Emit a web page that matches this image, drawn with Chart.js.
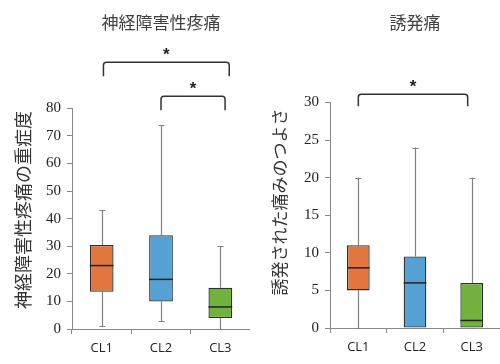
<!DOCTYPE html>
<html>
<head>
<meta charset="utf-8">
<script src="https://cdn.jsdelivr.net/npm/chart.js@4"></script>
<style>
  html, body { margin: 0; padding: 0; background: #fff; }
  #wrap { position: relative; width: 500px; height: 364px; }
  #wrap canvas { position: absolute; top: 0; }
  #npCanvas { left: 0; }
  #evCanvas { left: 250px; }
</style>
</head>
<body>
<div id="wrap">
  <canvas id="npCanvas" width="250" height="364"></canvas>
  <canvas id="evCanvas" width="250" height="364"></canvas>
</div>
<script>
/* =========================
   DATA
========================= */
const categories = ["CL1", "CL2", "CL3"];
const boxColors = ["#e2763f", "#56a1d3", "#70b23d"];

// 神経障害性疼痛 (severity)
const npMin = [1, 3, 0];
const npQ1 = [13.5, 10, 4];
const npMed = [23, 18, 8];
const npQ3 = [30.5, 34, 15];
const npMax = [43, 74, 30];
const npTicks = [0, 10, 20, 30, 40, 50, 60, 70, 80];
const npPairs = [[0.03, 2.15], [1.0, 2.08]];
const npLevels = [96.7, 84.4];

// 誘発痛 (evoked pain)
const evMin = [0, 0, 0];
const evQ1 = [5, 0, 0];
const evMed = [8, 6, 1];
const evQ3 = [11, 9.5, 6];
const evMax = [20, 24, 20];
const evTicks = [0, 5, 10, 15, 20, 25, 30];
const evPairs = [[0, 1.93]];
const evLevels = [31.1];

const SERIF = "'Liberation Serif', serif";
Chart.defaults.font.family = SERIF;
Chart.defaults.font.size = 15;
Chart.defaults.color = "#222";

/* =========================
   BOX PLOT EXTRAS
========================= */
const boxPlugin = {
  id: "boxExtras",
  beforeDatasetsDraw(chart) {
    const opts = chart.$box;
    const { ctx, scales: { x, y } } = chart;
    ctx.save();
    ctx.strokeStyle = "#808080";
    ctx.lineWidth = 1.2;
    opts.min.forEach((_, i) => {
      const cx = Math.round(x.getPixelForValue(i)) + 0.5;
      ctx.beginPath();
      ctx.moveTo(cx, y.getPixelForValue(opts.max[i]));
      ctx.lineTo(cx, y.getPixelForValue(opts.q3[i]));
      ctx.moveTo(cx, y.getPixelForValue(opts.q1[i]));
      ctx.lineTo(cx, y.getPixelForValue(opts.min[i]));
      // caps
      [opts.max[i], opts.min[i]].forEach(v => {
        const py = Math.round(y.getPixelForValue(v)) + 0.5;
        ctx.moveTo(cx - 3, py);
        ctx.lineTo(cx + 3, py);
      });
      ctx.stroke();
    });
    ctx.restore();
  },
  afterDatasetsDraw(chart) {
    const opts = chart.$box;
    const { ctx, scales: { x, y } } = chart;
    const meta = chart.getDatasetMeta(0);
    ctx.save();

    // medians
    ctx.strokeStyle = "#222";
    ctx.lineWidth = 1.5;
    opts.med.forEach((v, i) => {
      const bar = meta.data[i];
      const half = bar.width / 2;
      const py = y.getPixelForValue(v);
      ctx.beginPath();
      ctx.moveTo(bar.x - half, py);
      ctx.lineTo(bar.x + half, py);
      ctx.stroke();
    });

    // significance brackets
    ctx.strokeStyle = "#333";
    ctx.lineWidth = 1.5;
    ctx.fillStyle = "#222";
    ctx.font = "bold 17px 'Liberation Sans'";
    ctx.textAlign = "center";
    ctx.textBaseline = "middle";
    opts.pairs.forEach((p, k) => {
      const x1 = x.getPixelForValue(p[0]);
      const x2 = x.getPixelForValue(p[1]);
      const top = y.getPixelForValue(opts.levels[k]);
      const r = 3;
      ctx.beginPath();
      ctx.moveTo(x1, top + opts.drop);
      ctx.lineTo(x1, top + r);
      ctx.quadraticCurveTo(x1, top, x1 + r, top);
      ctx.lineTo(x2 - r, top);
      ctx.quadraticCurveTo(x2, top, x2, top + r);
      ctx.lineTo(x2, top + opts.drop);
      ctx.stroke();
      ctx.fillText("*", (x1 + x2) / 2, top - 7);
    });

    // y axis title
    ctx.fillStyle = "#333";
    ctx.font = opts.titleFont;
    ctx.translate(opts.titleX, opts.titleY);
    ctx.rotate(-Math.PI / 2);
    ctx.fillText(opts.yTitle, 0, 0);
    ctx.restore();
  }
};

/* =========================
   BUILD ONE PANEL
========================= */
function makePanel(canvasId, cfg, box) {
  const chart = new Chart(document.getElementById(canvasId), {
    type: "bar",
    data: {
      labels: categories,
      datasets: [{
        data: box.q1.map((v, i) => [v, box.q3[i]]),
        backgroundColor: boxColors,
        borderColor: "#2e2e2e",
        borderWidth: 1.3,
        borderSkipped: false,
        barPercentage: 0.4,
        categoryPercentage: 1
      }]
    },
    options: {
      responsive: false,
      animation: false,
      devicePixelRatio: 1,
      layout: { padding: 0 },
      plugins: {
        legend: { display: false },
        tooltip: { enabled: false },
        title: {
          display: true,
          text: cfg.title,
          fullSize: false,
          color: "#404040",
          font: { family: "'Noto Sans CJK JP'", size: 17, weight: "normal" },
          padding: { top: 12, bottom: cfg.titleGap }
        }
      },
      scales: {
        x: {
          grid: { drawOnChartArea: false, tickLength: 5, color: "#888" },
          border: { color: "#888", width: 1 },
          ticks: {
            color: "#222",
            padding: 6,
            font: () => ({ family: "'Open Sans'", size: 13 })
          },
          afterFit: s => { s.height = cfg.xHeight; }
        },
        y: {
          min: 0,
          max: cfg.ticks[cfg.ticks.length - 1],
          afterBuildTicks: s => { s.ticks = cfg.ticks.map(v => ({ value: v })); },
          grid: { drawOnChartArea: false, tickLength: 5, color: "#888" },
          border: { color: "#888", width: 1 },
          ticks: {
            color: "#222",
            padding: 6,
            font: () => ({ family: SERIF, size: 15 })
          },
          afterFit: s => { s.width = cfg.yWidth; }
        }
      }
    },
    plugins: [{
      id: "attach",
      beforeInit(c) { c.$box = box; }
    }, boxPlugin]
  });
  return chart;
}

makePanel("npCanvas", {
  title: "神経障害性疼痛",
  titleGap: 76,
  yWidth: 72,
  xHeight: 35,
  ticks: npTicks
}, {
  yTitle: "神経障害性疼痛の重症度",
  titleFont: "18px 'Noto Sans CJK JP'",
  titleX: 23,
  titleY: 210,
  min: npMin, q1: npQ1, med: npMed, q3: npQ3, max: npMax,
  pairs: npPairs, levels: npLevels, drop: 14
});

makePanel("evCanvas", {
  title: "誘発痛",
  titleGap: 70,
  yWidth: 80,
  xHeight: 36,
  ticks: evTicks
}, {
  yTitle: "誘発された痛みのつよさ",
  titleFont: "17px 'Noto Sans CJK JP'",
  titleX: 30,
  titleY: 202,
  min: evMin, q1: evQ1, med: evMed, q3: evQ3, max: evMax,
  pairs: evPairs, levels: evLevels, drop: 12
});
</script>
</body>
</html>
